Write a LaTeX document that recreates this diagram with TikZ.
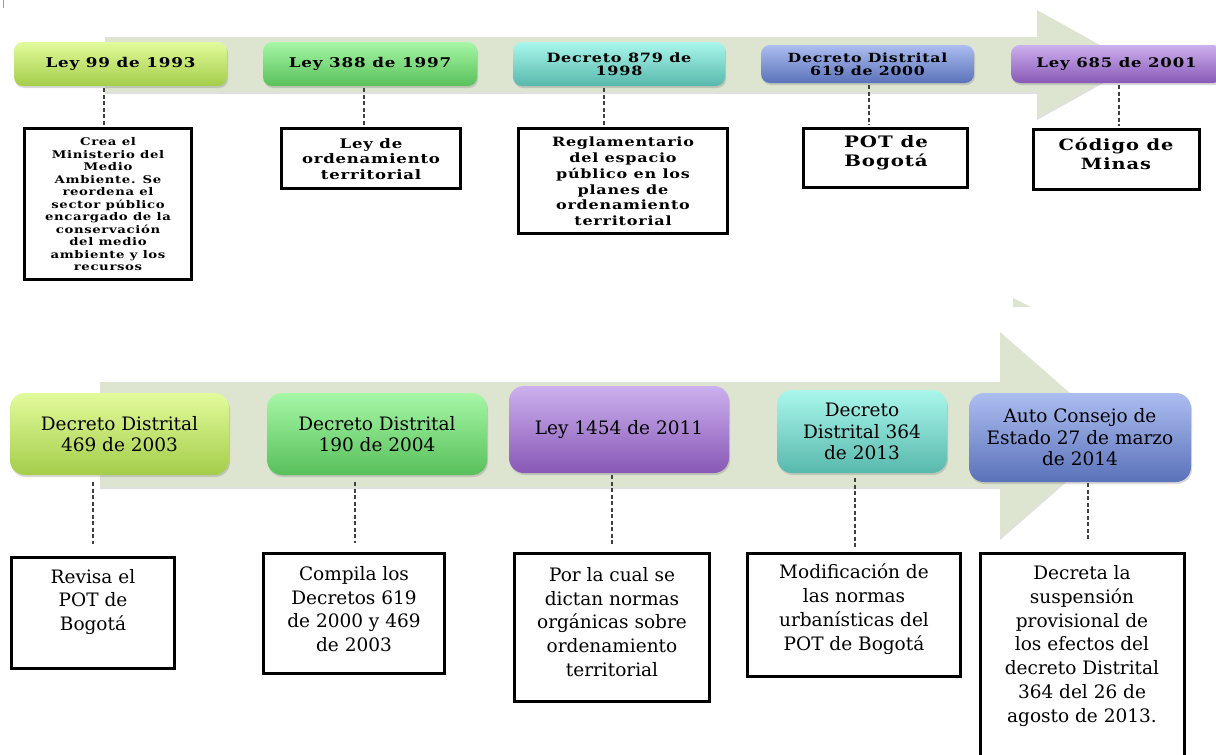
\documentclass[tikz,border=0pt]{standalone}
\usepackage{fontspec}
\setmainfont{DejaVu Serif}
\newfontfamily\topfont[FakeStretch=1.25,LetterSpace=6]{DejaVu Serif}
\usetikzlibrary{shadows}
\definecolor{arr}{HTML}{DDE5D0}
\definecolor{gA1}{HTML}{E2FB9C}\definecolor{gA2}{HTML}{A4CD4A}
\definecolor{gB1}{HTML}{A6F7A6}\definecolor{gB2}{HTML}{58C05A}
\definecolor{gC1}{HTML}{AAF7EC}\definecolor{gC2}{HTML}{58B8AC}
\definecolor{gD1}{HTML}{ACBDF0}\definecolor{gD2}{HTML}{5A72BA}
\definecolor{gE1}{HTML}{CCB0EE}\definecolor{gE2}{HTML}{8858B6}
\tikzset{
  lab/.style={rounded corners=#1, inner sep=0pt, outer sep=0pt, align=center,
    drop shadow={opacity=0.3,shadow xshift=1pt,shadow yshift=-2pt}},
  toplab/.style={lab=9pt, font=\topfont\bfseries\fontsize{#1}{13.3}\selectfont},
  botlab/.style={lab=15pt, font=\fontsize{18.5}{21.5}\selectfont},
  grA/.style={top color=gA1, bottom color=gA2},
  grB/.style={top color=gB1, bottom color=gB2},
  grC/.style={top color=gC1, bottom color=gC2},
  grD/.style={top color=gD1, bottom color=gD2},
  grE/.style={top color=gE1, bottom color=gE2},
  desc/.style={draw=black, line width=3pt, fill=white, inner sep=0pt, outer sep=0pt},
  dtxt/.style={inner sep=0pt, align=center},
  tdesc/.style 2 args={dtxt, font=\topfont\bfseries\fontsize{#1}{#2}\selectfont},
  bdesc/.style={dtxt, font=\fontsize{18.5}{23.8}\selectfont},
  conn/.style={draw=black!75, line width=1.6pt, dash pattern=on 4pt off 2.5pt},
  arrowbody/.style={fill=arr, drop shadow={opacity=0.25,shadow xshift=0pt,shadow yshift=-2pt}},
}
\newcommand{\boxat}[5]{% name, x, y, w, h
  \node[desc, anchor=north west, minimum width=#4pt, minimum height=#5pt] (#1) at (#2,#3) {};}
\begin{document}
\begin{tikzpicture}[x=1pt,y=-1pt]
\useasboundingbox (0,0) rectangle (1216,755);
% small artifacts
\draw[black!40, line width=1pt] (3.5,0) -- (3.5,8);
\fill[arr] (1013,298) -- (1031,307) -- (1013,307) -- cycle;
% arrows
\path[arrowbody] (105,37) -- (1037,37) -- (1037,10) -- (1134,64) -- (1037,118) -- (1037,92) -- (105,92) -- cycle;
\path[arrowbody] (100,382) -- (1000,382) -- (1000,332) -- (1118,435) -- (1000,538) -- (1000,487) -- (100,487) -- cycle;

% ---------- top row labels
\node[toplab=13.4, grA, anchor=north west, minimum width=213pt, minimum height=44pt] (l1) at (14,42) {Ley 99 de 1993};
\node[toplab=13.4, grB, anchor=north west, minimum width=214pt, minimum height=44pt] (l2) at (263,42) {Ley 388 de 1997};
\node[toplab=12.8, grC, anchor=north west, minimum width=212pt, minimum height=44pt] (l3) at (513,42) {Decreto 879 de\\1998};
\node[toplab=12.6, grD, anchor=north west, minimum width=213pt, minimum height=38pt] (l4) at (761,45) {Decreto Distrital\\619 de 2000};
\node[toplab=13.2, grE, anchor=north west, minimum width=211pt, minimum height=38pt] (l5) at (1011,45) {Ley 685 de 2001};

% ---------- top row descriptions
\boxat{d1}{24.5}{128.5}{167}{151}
\boxat{d2}{281.5}{128.5}{179}{60}
\boxat{d3}{518.5}{128.5}{209}{105}
\boxat{d4}{803.5}{128.5}{164}{59}
\boxat{d5}{1033.5}{129.5}{166}{60}
\node[tdesc={10.6}{12.5}] (d1t) at (108,204.5) {Crea el\\Ministerio del\\Medio\\Ambiente. Se\\reordena el\\sector público\\encargado de la\\conservación\\del medio\\ambiente y los\\recursos};
\node[tdesc={13.2}{15.5}] (d2t) at (371,159) {Ley de\\ordenamiento\\territorial};
\node[tdesc={12.8}{15.8}] (d3t) at (623,181.5) {Reglamentario\\del espacio\\público en los\\planes de\\ordenamiento\\territorial};
\node[tdesc={15.8}{19.5}] (d4t) at (886,153) {POT de\\Bogotá};
\node[tdesc={15.5}{19.5}] (d5t) at (1116,154) {Código de\\Minas};

% ---------- top connectors
\coordinate (c1) at (104,0);\coordinate (c2) at (364,0);\coordinate (c3) at (604,0);
\coordinate (c4) at (869,0);\coordinate (c5) at (1119,0);
\draw[conn, shorten <=2pt, shorten >=3.5pt] (l1.south -| c1) -- (d1.north -| c1);
\draw[conn, shorten <=2pt, shorten >=3.5pt] (l2.south -| c2) -- (d2.north -| c2);
\draw[conn, shorten <=2pt, shorten >=3.5pt] (l3.south -| c3) -- (d3.north -| c3);
\draw[conn, shorten <=2pt, shorten >=3.5pt] (l4.south -| c4) -- (d4.north -| c4);
\draw[conn, shorten <=2pt, shorten >=3.5pt] (l5.south -| c5) -- (d5.north -| c5);

% ---------- bottom row labels
\node[botlab, grA, anchor=north west, minimum width=219pt, minimum height=82pt] (m1) at (10,393) {Decreto Distrital\\469 de 2003};
\node[botlab, grB, anchor=north west, minimum width=220pt, minimum height=82pt] (m2) at (267,393) {Decreto Distrital\\190 de 2004};
\node[botlab, grE, anchor=north west, minimum width=220pt, minimum height=87pt] (m3) at (509,386) {Ley 1454 de 2011};
\node[botlab, grC, anchor=north west, minimum width=170pt, minimum height=83pt] (m4) at (777,390) {Decreto\\Distrital 364\\de 2013};
\node[botlab, grD, anchor=north west, minimum width=222pt, minimum height=89pt] (m5) at (969,393) {Auto Consejo de\\Estado 27 de marzo\\de 2014};

% ---------- bottom row descriptions
\boxat{e1}{11.5}{557.5}{163}{111}
\boxat{e2}{263.5}{553.5}{181}{120}
\boxat{e3}{514.5}{553.5}{195}{148}
\boxat{e4}{747.5}{553.5}{213}{123}
\boxat{e5}{980.5}{553.5}{204}{215}
\node[bdesc] (e1t) at (93,602) {Revisa el\\POT de\\Bogotá};
\node[bdesc] (e2t) at (354,609) {Compila los\\Decretos 619\\de 2000 y 469\\de 2003};
\node[bdesc] (e3t) at (612,622) {Por la cual se\\dictan normas\\orgánicas sobre\\ordenamiento\\territorial};
\node[bdesc] (e4t) at (854,609) {Modificación de\\las normas\\urbanísticas del\\POT de Bogotá};
\node[bdesc] (e5t) at (1082,646) {Decreta la\\suspensión\\provisional de\\los efectos del\\decreto Distrital\\364 del 26 de\\agosto de 2013.};

% ---------- bottom connectors
\coordinate (k1) at (93,0);\coordinate (k2) at (355,0);\coordinate (k3) at (612,0);
\coordinate (k4) at (855,0);\coordinate (k5) at (1088,0);
\draw[conn, shorten <=7pt, shorten >=14pt] (m1.south -| k1) -- (e1.north -| k1);
\draw[conn, shorten <=7pt, shorten >=11pt] (m2.south -| k2) -- (e2.north -| k2);
\draw[conn, shorten <=2pt, shorten >=8pt] (m3.south -| k3) -- (e3.north -| k3);
\draw[conn, shorten <=5pt, shorten >=5pt] (m4.south -| k4) -- (e4.north -| k4);
\draw[conn, shorten <=1pt, shorten >=13pt] (m5.south -| k5) -- (e5.north -| k5);
\end{tikzpicture}
\end{document}
